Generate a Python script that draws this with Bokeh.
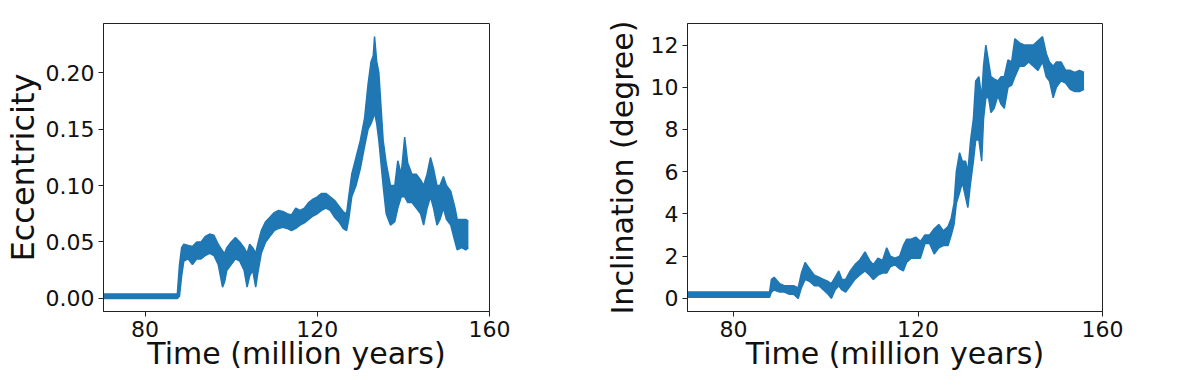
from bokeh.plotting import figure
from bokeh.layouts import row
from bokeh.models import Range1d, FixedTicker, NumeralTickFormatter
from bokeh.embed import file_html
from bokeh.resources import INLINE

BLUE = "#1f77b4"

# ---- Eccentricity (left panel): time, lower and upper envelope of the band ----
ecc_time = [70, 87.5, 88.0, 88.5, 89, 90, 91, 92, 93, 94, 95, 96, 97, 97.5, 98, 98.5,
            99, 100, 101, 102, 103, 103.7, 104.3, 105, 105.7, 106.3, 107, 108, 109,
            110, 111, 112, 113, 114, 115, 116, 117, 118, 119, 120, 121, 122, 123, 124,
            125, 126, 126.8, 127.3, 128, 129, 130, 131, 131.8, 132.5, 133.0, 133.3,
            133.8, 134.3, 134.8, 135.3, 136, 137, 138, 138.7, 139.5, 140.3, 141, 142,
            143, 144, 144.7, 145.5, 146.3, 147, 147.8, 148.5, 149.3, 150, 151, 152,
            152.5, 153.5, 154.5, 155.1]
ecc_low = [0.000, 0.000, 0.002, 0.020, 0.033, 0.035, 0.030, 0.035, 0.035, 0.038, 0.040,
           0.038, 0.030, 0.020, 0.010, 0.015, 0.025, 0.030, 0.035, 0.033, 0.025, 0.010,
           0.020, 0.025, 0.010, 0.025, 0.040, 0.050, 0.055, 0.060, 0.062, 0.063, 0.062,
           0.060, 0.062, 0.065, 0.067, 0.070, 0.073, 0.075, 0.078, 0.080, 0.078, 0.072,
           0.068, 0.062, 0.060, 0.070, 0.090, 0.100, 0.115, 0.135, 0.150, 0.155, 0.160,
           0.165, 0.155, 0.140, 0.120, 0.100, 0.075, 0.065, 0.068, 0.080, 0.090, 0.090,
           0.085, 0.085, 0.080, 0.075, 0.065, 0.080, 0.090, 0.080, 0.065, 0.070, 0.080,
           0.070, 0.065, 0.050, 0.043, 0.045, 0.043, 0.045]
ecc_high = [0.004, 0.004, 0.030, 0.045, 0.048, 0.047, 0.046, 0.050, 0.050, 0.055, 0.057,
            0.056, 0.048, 0.045, 0.042, 0.040, 0.045, 0.050, 0.054, 0.050, 0.045, 0.040,
            0.048, 0.045, 0.040, 0.050, 0.060, 0.068, 0.072, 0.076, 0.078, 0.077, 0.075,
            0.074, 0.080, 0.078, 0.080, 0.085, 0.088, 0.090, 0.093, 0.093, 0.090, 0.087,
            0.082, 0.077, 0.075, 0.090, 0.110, 0.125, 0.140, 0.160, 0.190, 0.210, 0.215,
            0.232, 0.210, 0.200, 0.170, 0.140, 0.120, 0.100, 0.100, 0.122, 0.110, 0.143,
            0.120, 0.110, 0.110, 0.105, 0.100, 0.110, 0.125, 0.115, 0.100, 0.100, 0.108,
            0.100, 0.095, 0.080, 0.070, 0.070, 0.070, 0.068]

# ---- Inclination (right panel) ----
inc_time = [70, 87.8, 88.2, 88.8, 90, 91, 92, 93, 94, 94.7, 95.5, 96.5, 97.5, 98.5, 99.5,
            100.5, 101.2, 102, 102.8, 103.5, 104.3, 105.3, 106.3, 107.3, 108.5, 109.5,
            110.3, 111.3, 112.3, 113.2, 114, 115, 116, 116.8, 117.5, 118.5, 119.5, 120.5,
            121.5, 122.5, 123.5, 124.5, 125.5, 126.5, 127.2, 127.8, 128.3, 129, 129.6,
            130.3, 130.8, 131.4, 132, 132.5, 133.2, 133.8, 134.2, 134.7, 135.3, 135.8,
            136.5, 137.3, 138, 138.7, 139.5, 140.3, 141, 142, 143, 144, 145, 146, 147,
            147.8, 148.5, 149.3, 150, 151, 152, 153, 154, 155, 156]
inc_low = [0.05, 0.05, 0.3, 0.4, 0.3, 0.3, 0.2, 0.2, 0.0, 0.5, 0.9, 0.8, 0.6, 0.6, 0.4,
           0.2, 0.0, 0.4, 0.6, 0.4, 0.3, 0.6, 0.9, 1.1, 1.3, 1.1, 0.9, 1.1, 1.2, 1.2, 1.5,
           1.6, 1.4, 1.3, 1.7, 1.9, 1.9, 1.9, 2.6, 2.6, 2.1, 2.4, 2.5, 2.5, 3.0, 3.5, 4.5,
           5.0, 5.5, 4.8, 4.3, 5.5, 6.5, 7.5, 7.5, 6.5, 8.5, 9.5, 9.5, 8.8, 9.0, 9.6, 9.2,
           9.0, 10.0, 10.1, 10.5, 11.0, 11.0, 11.2, 11.0, 10.8, 11.2, 10.5, 10.3, 9.5,
           10.0, 10.3, 10.2, 9.9, 9.8, 9.8, 9.9]
inc_high = [0.3, 0.3, 0.9, 1.0, 0.7, 0.6, 0.6, 0.6, 0.5, 1.2, 1.7, 1.4, 1.1, 1.0, 0.9,
            0.8, 0.7, 1.0, 1.3, 0.9, 0.9, 1.3, 1.6, 1.8, 2.2, 1.8, 1.6, 1.9, 1.8, 2.4, 2.0,
            1.9, 2.0, 2.5, 2.8, 2.8, 2.9, 2.7, 3.0, 3.0, 3.3, 3.5, 3.2, 3.4, 3.8, 4.5, 6.0,
            6.9, 6.5, 6.5, 6.0, 7.5, 8.5, 10.3, 10.5, 9.5, 11.0, 12.0, 11.2, 10.5, 10.4,
            10.3, 10.5, 10.5, 11.3, 11.2, 12.3, 12.1, 12.0, 12.0, 12.0, 12.2, 12.4, 11.6,
            11.2, 11.0, 11.2, 11.2, 10.8, 10.8, 10.7, 10.8, 10.7]

x_ticks = [80, 120, 160]
ecc_ticks = [0.0, 0.05, 0.10, 0.15, 0.20]
inc_ticks = [0, 2, 4, 6, 8, 10, 12]

FONT = "DejaVu Sans"


def make(xr, yr, ticks_y, ylabel, ylabel_size, ylabel_standoff, bl, br, bt):
    p = figure(width=592, height=373, x_range=Range1d(*xr), y_range=Range1d(*yr),
               output_backend="svg", toolbar_location=None,
               min_border_left=bl, min_border_right=br, min_border_top=bt,
               min_border_bottom=60)
    p.xgrid.visible = False
    p.ygrid.visible = False
    p.outline_line_color = "#222222"
    p.outline_line_width = 1
    p.background_fill_color = "white"
    p.border_fill_color = "white"
    for ax in (p.xaxis[0], p.yaxis[0]):
        ax.axis_line_color = "#222222"
        ax.major_tick_line_color = "#222222"
        ax.major_tick_out = 5
        ax.major_tick_in = 0
        ax.minor_tick_line_color = None
        ax.major_label_text_font = FONT
        ax.major_label_text_font_size = "22px"
        ax.major_label_text_color = "#111111"
        ax.axis_label_text_font = FONT
        ax.axis_label_text_font_style = "normal"
        ax.axis_label_text_color = "#111111"
    p.xaxis.ticker = FixedTicker(ticks=x_ticks)
    p.yaxis.ticker = FixedTicker(ticks=ticks_y)
    p.xaxis.axis_label = "Time (million years)"
    p.xaxis.axis_label_text_font_size = "30px"
    p.xaxis.axis_label_standoff = -4
    p.xaxis.major_label_standoff = 4
    p.yaxis.axis_label = ylabel
    p.yaxis.axis_label_text_font_size = ylabel_size
    p.yaxis.axis_label_standoff = ylabel_standoff
    p.yaxis.major_label_standoff = 4
    return p


p1 = make((70.35, 160), (-0.0116, 0.2436), ecc_ticks, "Eccentricity", "32px", 1,
          96, 103, 14)
p1.yaxis.formatter = NumeralTickFormatter(format="0.00")
p1.varea(x=ecc_time, y1=ecc_low, y2=ecc_high, fill_color=BLUE)
p1.line(ecc_time, ecc_low, line_color=BLUE, line_width=1.5)
p1.line(ecc_time, ecc_high, line_color=BLUE, line_width=1.5)

p2 = make((70, 160), (-0.62, 13.02), inc_ticks, "Inclination (degree)", "30px", 8,
          95, 82, 23)
p2.varea(x=inc_time, y1=inc_low, y2=inc_high, fill_color=BLUE)
p2.line(inc_time, inc_low, line_color=BLUE, line_width=1.5)
p2.line(inc_time, inc_high, line_color=BLUE, line_width=1.5)

layout = row(p1, p2)
open("out.html", "w").write(file_html(layout, INLINE))
